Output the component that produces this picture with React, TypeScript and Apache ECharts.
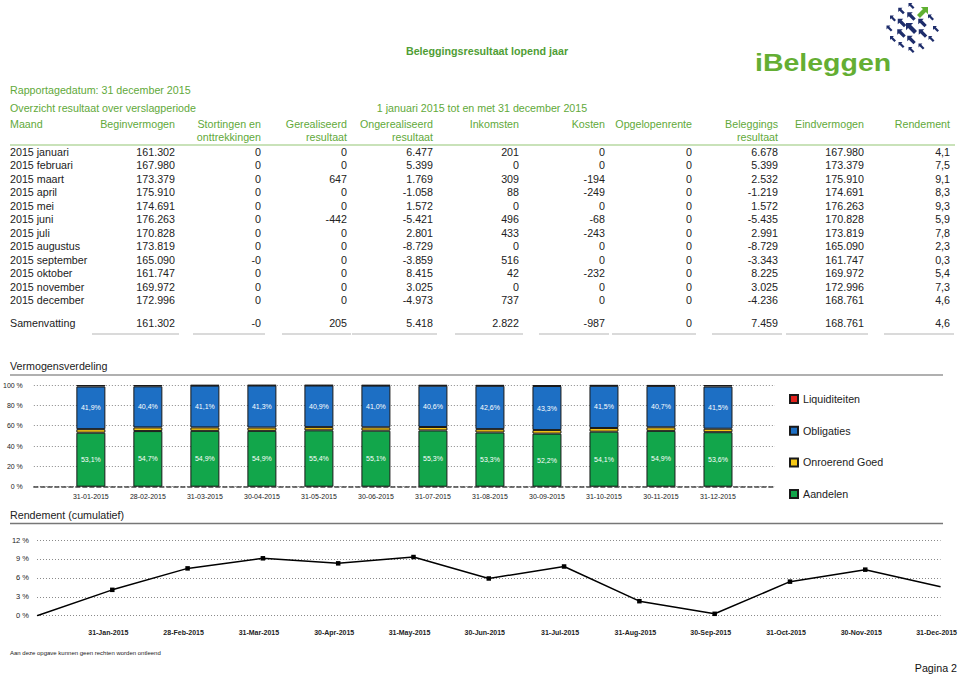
import React, { useEffect, useRef } from "react";
import * as echarts from "echarts";

// ---------- DATA ----------
const maanden = ["2015 januari", "2015 februari", "2015 maart", "2015 april", "2015 mei", "2015 juni", "2015 juli", "2015 augustus", "2015 september", "2015 oktober", "2015 november", "2015 december"];
const beginvermogen = ["161.302", "167.980", "173.379", "175.910", "174.691", "176.263", "170.828", "173.819", "165.090", "161.747", "169.972", "172.996"];
const stortingen = ["0", "0", "0", "0", "0", "0", "0", "0", "-0", "0", "0", "0"];
const gerealiseerd = ["0", "0", "647", "0", "0", "-442", "0", "0", "0", "0", "0", "0"];
const ongerealiseerd = ["6.477", "5.399", "1.769", "-1.058", "1.572", "-5.421", "2.801", "-8.729", "-3.859", "8.415", "3.025", "-4.973"];
const inkomsten = ["201", "0", "309", "88", "0", "496", "433", "0", "516", "42", "0", "737"];
const kosten = ["0", "0", "-194", "-249", "0", "-68", "-243", "0", "0", "-232", "0", "0"];
const opgelopenrente = ["0", "0", "0", "0", "0", "0", "0", "0", "0", "0", "0", "0"];
const beleggingsresultaat = ["6.678", "5.399", "2.532", "-1.219", "1.572", "-5.435", "2.991", "-8.729", "-3.343", "8.225", "3.025", "-4.236"];
const eindvermogen = ["167.980", "173.379", "175.910", "174.691", "176.263", "170.828", "173.819", "165.090", "161.747", "169.972", "172.996", "168.761"];
const rendement = [4.1, 7.5, 9.1, 8.3, 9.3, 5.9, 7.8, 2.3, 0.3, 5.4, 7.3, 4.6];
const samenvatting = ["Samenvatting", "161.302", "-0", "205", "5.418", "2.822", "-987", "0", "7.459", "168.761", "4,6"];

const kolomKoppen = [
  ["Maand"], ["Beginvermogen"], ["Stortingen en", "onttrekkingen"], ["Gerealiseerd", "resultaat"],
  ["Ongerealiseerd", "resultaat"], ["Inkomsten"], ["Kosten"], ["Opgelopenrente"],
  ["Beleggings", "resultaat"], ["Eindvermogen"], ["Rendement"],
];

const verdelingDatums = ["31-01-2015", "28-02-2015", "31-03-2015", "30-04-2015", "31-05-2015", "30-06-2015", "31-07-2015", "31-08-2015", "30-09-2015", "31-10-2015", "30-11-2015", "31-12-2015"];
const aandelen = [53.1, 54.7, 54.9, 54.9, 55.4, 55.1, 55.3, 53.3, 52.2, 54.1, 54.9, 53.6];
const onroerendGoed = [3.5, 3.6, 3.4, 3.3, 3.2, 3.3, 3.4, 3.3, 3.5, 3.6, 3.5, 3.4];
const obligaties = [41.9, 40.4, 41.1, 41.3, 40.9, 41.0, 40.6, 42.6, 43.3, 41.5, 40.7, 41.5];
const liquiditeiten = [1.5, 1.3, 0.6, 0.5, 0.5, 0.6, 0.7, 0.8, 1.0, 0.8, 0.9, 1.5];

const rendementDatums = ["31-Jan-2015", "28-Feb-2015", "31-Mar-2015", "30-Apr-2015", "31-May-2015", "30-Jun-2015", "31-Jul-2015", "31-Aug-2015", "30-Sep-2015", "31-Oct-2015", "30-Nov-2015", "31-Dec-2015"];
const rendementCumulatief = [0, 4.1, 7.5, 9.1, 8.3, 9.3, 5.9, 7.8, 2.3, 0.3, 5.4, 7.3, 4.6];

// ---------- STYLE ----------
const FONT = '"Liberation Sans", Arial, sans-serif';
const GREEN_TXT = "#5fa93a";
const colRight = [10, 175, 261, 347, 433, 519, 605, 692, 778, 864, 950];
const underlineLeft = [0, 92, 193, 282, 352, 455, 539, 612, 712, 786, 884];

const fmtPct = (v: number) => v.toFixed(1).replace(".", ",");

function txt(text: string, x: number, y: number, opts: any = {}) {
  const align = opts.align || "left";
  return {
    type: "text",
    x,
    y,
    silent: true,
    style: {
      text,
      fill: opts.fill || "#222",
      font: `${opts.weight || "normal"} ${opts.size || 10.7}px ${FONT}`,
      align,
      textAlign: align,
      verticalAlign: "middle",
      textVerticalAlign: "middle",
    },
  };
}

const arrowSpots: [number, number, number][] = [
  [911.5, 6, 0.6], [901.5, 11, 0.65], [911.5, 16.5, 0.85], [931, 17.5, 0.6], [893, 18.5, 0.6],
  [902, 23, 0.85], [911.5, 28.5, 1.1], [922.5, 23, 0.85], [889.5, 28.5, 0.6], [936, 29, 0.6],
  [901.5, 33.5, 0.85], [923, 33.5, 0.85], [893, 39, 0.6], [911.5, 40, 0.85], [931.5, 39, 0.6],
  [901.5, 45, 0.6], [911.5, 50, 0.6], [921.5, 46.5, 0.6],
];

let registered = false;

export default function App() {
  const ref = useRef<HTMLDivElement>(null);
  useEffect(() => {
    if (!ref.current) return;
    if (!registered) {
      echarts.graphic.registerShape(
        "arrowNW",
        echarts.graphic.extendPath("M0 0 L6.5 0 L4.6 1.9 L10 7.3 L7.3 10 L1.9 4.6 L0 6.5 Z", {}) as any
      );
      registered = true;
    }
    const chart = echarts.init(ref.current, null, { renderer: "svg" });

    const g: any[] = [];
    g.push(txt("Beleggingsresultaat lopend jaar", 487, 51, { align: "center", weight: "bold", fill: "#4f9e35" }));
    g.push(txt("Rapportagedatum: 31 december 2015", 10, 90, { fill: GREEN_TXT }));
    g.push(txt("Overzicht resultaat over verslagperiode", 10, 107.5, { fill: GREEN_TXT }));
    g.push(txt("1 januari 2015 tot en met 31 december 2015", 482, 107.5, { align: "center", fill: GREEN_TXT }));
    // logo
    g.push({
      type: "text", x: 755, y: 63, scaleY: 0.85, silent: true,
      style: { text: "iBeleggen", fill: "#64ae33", font: `bold 28.5px ${FONT}`, align: "left", textAlign: "left", verticalAlign: "middle", textVerticalAlign: "middle" },
    });
    arrowSpots.forEach(([cx, cy, s]) => {
      g.push({ type: "arrowNW", x: cx - 5 * s, y: cy - 5 * s, scaleX: s, scaleY: s, silent: true, style: { fill: "#1e2d6b" } });
    });
    g.push({ type: "arrowNW", x: 922.5 + 5.5, y: 12.5 - 5.5, scaleX: -1.1, scaleY: 1.1, silent: true, style: { fill: "#5fb031" } });

    // table header
    kolomKoppen.forEach((lines, i) => {
      const align = i === 0 ? "left" : "right";
      lines.forEach((l, j) => g.push(txt(l, colRight[i], 124 + j * 13, { align, fill: GREEN_TXT })));
    });
    g.push({ type: "line", silent: true, shape: { x1: 10, y1: 145, x2: 955, y2: 145 }, style: { stroke: "#b7d9a2", lineWidth: 1.5 } });

    const cols = [maanden, beginvermogen, stortingen, gerealiseerd, ongerealiseerd, inkomsten, kosten, opgelopenrente, beleggingsresultaat, eindvermogen, rendement.map(fmtPct)];
    maanden.forEach((_, r) => {
      const y = 151.5 + r * 13.5;
      cols.forEach((col, c) => g.push(txt(String(col[r]), colRight[c], y, { align: c === 0 ? "left" : "right" })));
    });
    samenvatting.forEach((v, c) => g.push(txt(v, colRight[c], 323, { align: c === 0 ? "left" : "right" })));
    for (let c = 1; c < colRight.length; c++) {
      g.push({ type: "line", silent: true, shape: { x1: underlineLeft[c], y1: 334, x2: colRight[c] + 4, y2: 334 }, style: { stroke: "#b5b5b5", lineWidth: 1 } });
    }

    // section titles
    g.push(txt("Vermogensverdeling", 10, 366));
    g.push({ type: "line", silent: true, shape: { x1: 10, y1: 375, x2: 943, y2: 375 }, style: { stroke: "#b0b0b0", lineWidth: 2 } });
    g.push(txt("Rendement (cumulatief)", 10, 515));
    g.push({ type: "line", silent: true, shape: { x1: 10, y1: 523.5, x2: 943, y2: 523.5 }, style: { stroke: "#777", lineWidth: 1.5 } });
    // footer
    g.push(txt("Aan deze opgave kunnen geen rechten worden ontleend", 10, 652.5, { size: 6 }));
    g.push(txt("Pagina 2", 957, 668, { align: "right", fill: "#111" }));

    const barLabel = {
      show: true, position: "inside", color: "#fff", fontSize: 7, fontFamily: FONT,
      formatter: (p: any) => fmtPct(p.value) + "%",
    };
    const pad = (arr: number[]) => [null, ...arr, null];
    const barBase = {
      type: "bar", stack: "verdeling", xAxisIndex: 0, yAxisIndex: 0, barWidth: 29,
    };

    chart.setOption({
      animation: false,
      backgroundColor: "#fff",
      textStyle: { fontFamily: FONT },
      grid: [
        { left: 30, right: 185, top: 385, height: 101.7 },
        { left: 37, right: 17, top: 540, height: 75.7 },
      ],
      legend: {
        orient: "vertical", left: 784, top: 388.5, itemWidth: 8, itemHeight: 8, itemGap: 20.7, icon: "rect",
        textStyle: { fontSize: 10.7, color: "#222", fontFamily: FONT },
        data: ["Liquiditeiten", "Obligaties", "Onroerend Goed", "Aandelen"],
      },
      xAxis: [
        {
          type: "category", gridIndex: 0, data: ["", ...verdelingDatums, ""], boundaryGap: false,
          axisTick: { show: false },
          axisLine: { lineStyle: { color: "#444", type: [4, 3], width: 1.5 } },
          axisLabel: { fontSize: 7, color: "#222", margin: 6, interval: 0 },
          splitLine: { show: false },
        },
        {
          type: "category", gridIndex: 1, data: ["", ...rendementDatums], boundaryGap: false,
          axisTick: { show: false }, axisLine: { show: false },
          axisLabel: { fontSize: 7, color: "#222", margin: 13, interval: 0, fontWeight: "bold", padding: [0, 8, 0, 0] },
          splitLine: { show: false },
        },
      ],
      yAxis: [
        {
          type: "value", gridIndex: 0, min: 0, max: 100, interval: 20,
          axisLine: { show: false }, axisTick: { show: false },
          axisLabel: { formatter: "{value} %", fontSize: 7, color: "#222", margin: 11 },
          splitLine: { lineStyle: { type: [1, 2], color: "#8a8a8a" } },
        },
        {
          type: "value", gridIndex: 1, min: 0, max: 12, interval: 3,
          axisLine: { show: false }, axisTick: { show: false },
          axisLabel: { formatter: "{value} %", fontSize: 7.5, color: "#222", margin: 8 },
          splitLine: { lineStyle: { type: [1, 2], color: "#8a8a8a" } },
        },
      ],
      series: [
        { ...barBase, name: "Aandelen", data: pad(aandelen), itemStyle: { color: "#12a64b", borderColor: "#1a1a1a", borderWidth: 1 }, label: barLabel },
        { ...barBase, name: "Onroerend Goed", data: pad(onroerendGoed), itemStyle: { color: "#f5c816", borderColor: "#1a1a1a", borderWidth: 1 } },
        { ...barBase, name: "Obligaties", data: pad(obligaties), itemStyle: { color: "#1d6fc4", borderColor: "#1a1a1a", borderWidth: 1 }, label: barLabel },
        { ...barBase, name: "Liquiditeiten", data: pad(liquiditeiten), itemStyle: { color: "#e3211c", borderColor: "#1a1a1a", borderWidth: 1 } },
        {
          type: "line", name: "Rendement", xAxisIndex: 1, yAxisIndex: 1,
          data: rendementCumulatief.map((v, i) => ({
            value: v,
            symbol: i === 0 || i === rendementCumulatief.length - 1 ? "none" : "rect",
          })),
          symbol: "rect", symbolSize: 4.5, showSymbol: true,
          lineStyle: { color: "#000", width: 1.5 }, itemStyle: { color: "#000" },
        },
      ],
      graphic: g,
    });
    return () => chart.dispose();
  }, []);
  return (
    <div style={{ position: "fixed", left: 0, top: 0, width: 960, height: 676, background: "#fff" }}>
      <div ref={ref} style={{ width: 960, height: 676 }} />
    </div>
  );
}
